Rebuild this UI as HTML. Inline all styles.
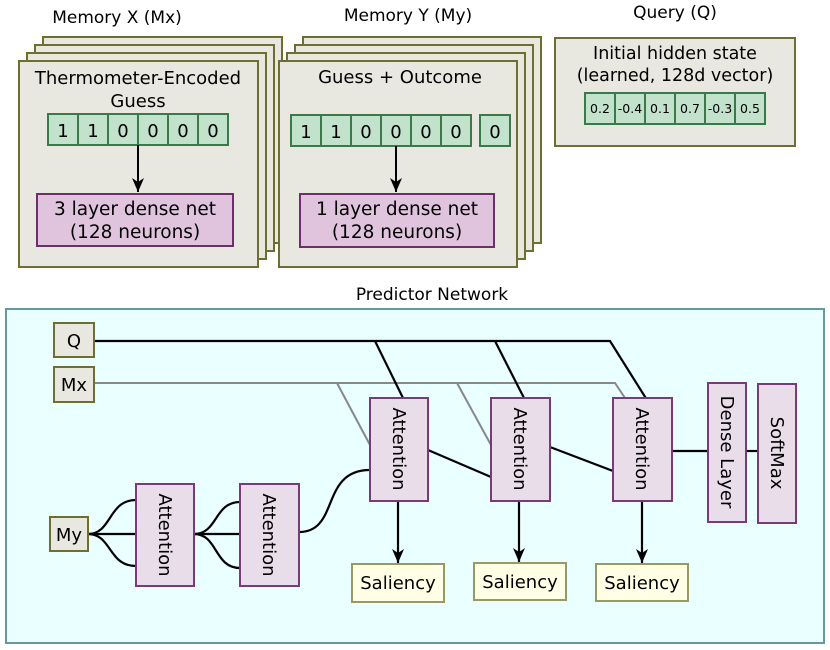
<!DOCTYPE html>
<html><head><meta charset="utf-8"><style>
html,body{margin:0;padding:0;background:#fff}
svg{display:block;font-family:"DejaVu Sans","Liberation Sans",sans-serif}
</style></head><body>
<svg width="830" height="650" viewBox="0 0 830 650" xmlns="http://www.w3.org/2000/svg">
<defs><marker id="ar" markerWidth="14" markerHeight="12" refX="14" refY="6" orient="auto" markerUnits="userSpaceOnUse">
<path d="M0,0 L14,6 L0,12 L4,6 Z" fill="#000"/></marker></defs>
<g font-size="17" fill="#000" text-anchor="middle">
<text x="117" y="23">Memory X (Mx)</text>
<text x="408" y="21">Memory Y (My)</text>
<text x="675" y="18">Query (Q)</text>
</g>
<g fill="#e8e8e0" stroke="#6e6e2e" stroke-width="2">
<rect x="43" y="37" width="239" height="206"/><rect x="35" y="45" width="239" height="206"/><rect x="27" y="53" width="239" height="206"/><rect x="19" y="61" width="239" height="206"/>
<rect x="303" y="37" width="238" height="206"/><rect x="295" y="45" width="238" height="206"/><rect x="287" y="53" width="238" height="206"/><rect x="279" y="61" width="238" height="206"/>
<rect x="555" y="38" width="240" height="108"/>
</g>
<g font-size="18" text-anchor="middle">
<text x="138" y="84">Thermometer-Encoded</text><text x="138" y="107">Guess</text>
<text x="400" y="83">Guess + Outcome</text>
<text x="675" y="59" font-size="17.5">Initial hidden state</text><text x="675" y="81" font-size="17.5">(learned, 128d vector)</text>
</g>
<g fill="#c2e2cc" stroke="#3a7a4a" stroke-width="2">
<rect x="48" y="114" width="30" height="31"/><rect x="78" y="114" width="30" height="31"/><rect x="108" y="114" width="30" height="31"/><rect x="138" y="114" width="30" height="31"/><rect x="168" y="114" width="30" height="31"/><rect x="198" y="114" width="30" height="31"/>
<rect x="291" y="115" width="30" height="31"/><rect x="321" y="115" width="30" height="31"/><rect x="351" y="115" width="30" height="31"/><rect x="381" y="115" width="30" height="31"/><rect x="411" y="115" width="30" height="31"/><rect x="441" y="115" width="30" height="31"/>
<rect x="480" y="115" width="30" height="31"/>
<rect x="585" y="93" width="30" height="31"/><rect x="615" y="93" width="30" height="31"/><rect x="645" y="93" width="30" height="31"/><rect x="675" y="93" width="30" height="31"/><rect x="705" y="93" width="30" height="31"/><rect x="735" y="93" width="30" height="31"/>
</g>
<g font-size="18" text-anchor="middle">
<text x="63" y="137">1</text><text x="93" y="137">1</text><text x="123" y="137">0</text><text x="153" y="137">0</text><text x="183" y="137">0</text><text x="213" y="137">0</text>
<text x="306" y="138">1</text><text x="336" y="138">1</text><text x="366" y="138">0</text><text x="396" y="138">0</text><text x="426" y="138">0</text><text x="456" y="138">0</text><text x="495" y="138">0</text>
</g>
<g font-size="12.5" text-anchor="middle">
<text x="600" y="113">0.2</text><text x="630" y="113">-0.4</text><text x="660" y="113">0.1</text><text x="690" y="113">0.7</text><text x="720" y="113">-0.3</text><text x="750" y="113">0.5</text>
</g>
<g stroke="#000" stroke-width="2"><line x1="138" y1="145" x2="138" y2="192" marker-end="url(#ar)"/><line x1="396" y1="146" x2="396" y2="192" marker-end="url(#ar)"/></g>
<g fill="#e0c4de" stroke="#6e2e6e" stroke-width="2"><rect x="37" y="194" width="196" height="52"/><rect x="300" y="194" width="194" height="53"/></g>
<g font-size="18.5" text-anchor="middle">
<text x="135" y="215">3 layer dense net</text><text x="135" y="238">(128 neurons)</text>
<text x="397" y="215">1 layer dense net</text><text x="397" y="238">(128 neurons)</text>
</g>
<text x="432" y="300" font-size="17" text-anchor="middle">Predictor Network</text>
<rect x="6" y="309" width="818" height="334" fill="#eaffff" stroke="#669999" stroke-width="2"/>
<g fill="none" stroke="#888" stroke-width="2">
<polyline points="94,383 615,383 625,398"/><line x1="337" y1="383" x2="370" y2="445"/><line x1="457" y1="383" x2="491" y2="445"/>
</g>
<g fill="none" stroke="#000" stroke-width="2.2">
<polyline points="94,341 610,341 647,400"/><line x1="375" y1="341" x2="403" y2="398"/><line x1="495" y1="341" x2="524" y2="398"/>
<line x1="428" y1="450" x2="491" y2="477"/><line x1="550" y1="447" x2="613" y2="471"/>
<line x1="672" y1="451" x2="708" y2="451"/><line x1="746" y1="451" x2="758" y2="451"/>
<path d="M88,534 C112,534 108,500 136,500"/><path d="M88,534 L136,534"/><path d="M88,534 C112,534 108,566 136,566"/>
<path d="M194,534 C218,534 214,502 240,502"/><path d="M194,534 L240,534"/><path d="M194,534 C218,534 214,568 240,568"/>
<path d="M299,532 C340,532 320,470 370,470"/>
<line x1="398" y1="501" x2="398" y2="563" marker-end="url(#ar)"/><line x1="519" y1="501" x2="519" y2="562" marker-end="url(#ar)"/><line x1="642" y1="501" x2="642" y2="563" marker-end="url(#ar)"/>
</g>
<g fill="#e8e8e0" stroke="#6e6e2e" stroke-width="2">
<rect x="54" y="323" width="40" height="34"/><rect x="54" y="367" width="40" height="35"/><rect x="50" y="517" width="38" height="34"/>
</g>
<g font-size="18" text-anchor="middle"><text x="74" y="347">Q</text><text x="74" y="391">Mx</text><text x="69" y="541">My</text></g>
<g fill="#e8dde8" stroke="#7a3a7a" stroke-width="2">
<rect x="370" y="398" width="58" height="103"/><rect x="491" y="398" width="59" height="103"/><rect x="613" y="398" width="59" height="103"/>
<rect x="136" y="484" width="58" height="102"/><rect x="240" y="484" width="59" height="102"/>
<rect x="708" y="383" width="38" height="139"/><rect x="758" y="384" width="38" height="139"/>
</g>
<g font-size="18" text-anchor="middle">
<text transform="translate(393,449) rotate(90)">Attention</text>
<text transform="translate(514,449) rotate(90)">Attention</text>
<text transform="translate(636,449) rotate(90)">Attention</text>
<text transform="translate(159,535) rotate(90)">Attention</text>
<text transform="translate(263,535) rotate(90)">Attention</text>
<text transform="translate(721,452) rotate(90)">Dense Layer</text>
<text transform="translate(771,453) rotate(90)">SoftMax</text>
</g>
<g fill="#ffffe6" stroke="#999966" stroke-width="2">
<rect x="352" y="564" width="92" height="38"/><rect x="474" y="563" width="92" height="37"/><rect x="596" y="564" width="92" height="37"/>
</g>
<g font-size="18" text-anchor="middle"><text x="398" y="589">Saliency</text><text x="520" y="588">Saliency</text><text x="642" y="589">Saliency</text></g>
</svg>
</body></html>
